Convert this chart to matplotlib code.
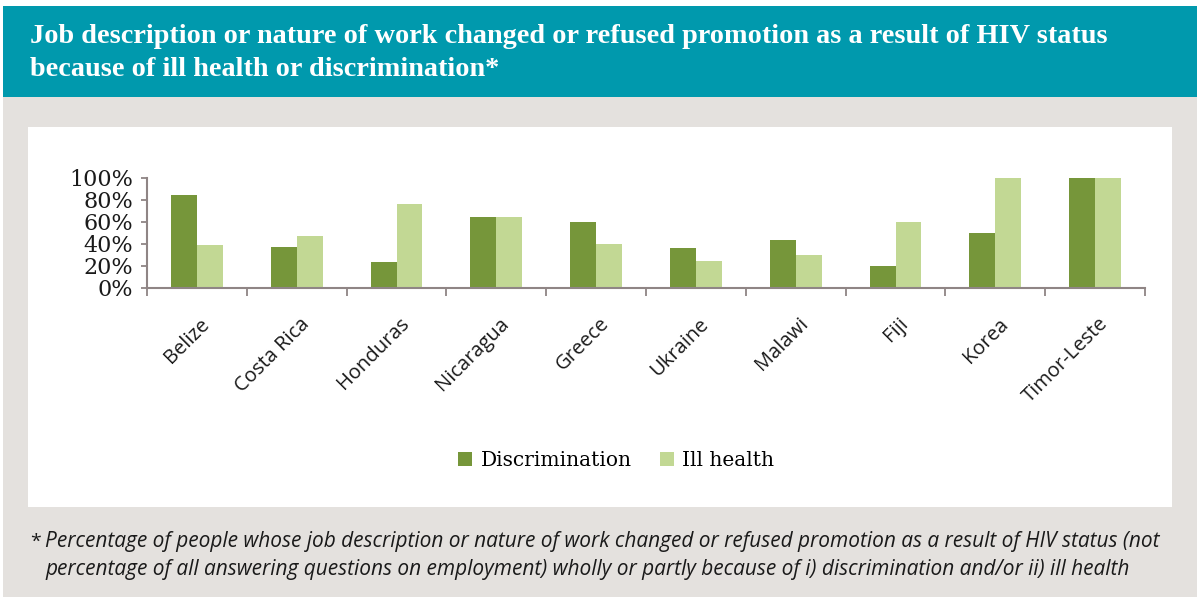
import numpy as np
import matplotlib
matplotlib.use('Agg')
import matplotlib.pyplot as plt
from matplotlib.patches import Rectangle
import matplotlib.transforms as mtransforms

countries = ['Belize', 'Costa Rica', 'Honduras', 'Nicaragua', 'Greece',
             'Ukraine', 'Malawi', 'Fiji', 'Korea', 'Timor-Leste']
discrimination = [85, 37, 24, 65, 60, 36, 44, 20, 50, 100]
ill_health = [39, 47, 76, 65, 40, 25, 30, 60, 100, 100]
y_ticks = [0, 20, 40, 60, 80, 100]

title = ('Job description or nature of work changed or refused promotion as a result of HIV status\n'
         'because of ill health or discrimination*')
note_1 = ('Percentage of people whose job description or nature of work changed or refused promotion '
          'as a result of HIV status (not')
note_2 = ('percentage of all answering questions on employment) wholly or partly because of i) '
          'discrimination and/or ii) ill health')

dark_green = '#76963a'
light_green = '#c2d894'
teal = '#0099ad'
grey_bg = '#e4e1de'
axis_col = '#8f8585'

W, H = 1197, 597
fig = plt.figure(figsize=(W / 100, H / 100), dpi=100)
fig.patch.set_facecolor('white')

def box(x0, y0, x1, y1, color):
    # pixel coords from top-left
    fig.patches.append(Rectangle((x0 / W, 1 - y1 / H), (x1 - x0) / W, (y1 - y0) / H,
                                 transform=fig.transFigure, facecolor=color,
                                 edgecolor='none', zorder=-5))

box(3, 97, W, H, grey_bg)
box(3, 6, W, 97, teal)
box(28, 127, 1172, 507, 'white')

fig.text(30 / W, 1 - 53 / H, title, color='white', fontsize=20.3, fontweight='bold',
         family='Liberation Serif', va='center', ha='left', linespacing=1.4)

# chart
ax = fig.add_axes([147 / W, 1 - 288 / H, (1145 - 147) / W, 110 / H], zorder=2)
ax.set_facecolor('none')
x = np.arange(len(countries))
w = 0.26
ax.bar(x - w / 2, discrimination, w, color=dark_green, label='Discrimination')
ax.bar(x + w / 2, ill_health, w, color=light_green, label='Ill health')
ax.set_xlim(-0.5, len(countries) - 0.5)
ax.set_ylim(0, 100)
ax.set_yticks(y_ticks)
ax.set_yticklabels([f'{t}%' for t in y_ticks], family='DejaVu Serif', fontsize=16, color='#1a1a1a')
ax.set_xticks(np.arange(len(countries) + 1) - 0.5)
ax.set_xticklabels([])
ax.tick_params(axis='x', direction='out', length=6, color=axis_col, width=1.3)
ax.tick_params(axis='y', direction='out', length=4, color=axis_col, width=1.3, pad=6)
for s in ['top', 'right']:
    ax.spines[s].set_visible(False)
for s in ['left', 'bottom']:
    ax.spines[s].set_color(axis_col)
    ax.spines[s].set_linewidth(1.5)

offset = mtransforms.ScaledTranslation(10 / 100, -33 / 100, fig.dpi_scale_trans)
for i, c in enumerate(countries):
    ax.text(i, 0, c, transform=ax.get_xaxis_transform() + offset, rotation=45,
            ha='right', va='center', rotation_mode='anchor', fontsize=14.5,
            family='Open Sans', color='#1a1a1a')

handles, labels = ax.get_legend_handles_labels()
fig.legend(handles, labels, loc='center', bbox_to_anchor=(616 / W, 1 - 461 / H), ncol=2,
           frameon=False, prop={'family': 'DejaVu Serif', 'size': 14.5},
           handlelength=0.7, handleheight=0.7, handletextpad=0.4, columnspacing=1.4)

fig.text(30 / W, 1 - 542 / H, '*', fontsize=14, family='Open Sans', color='#1a1a1a',
         va='center', ha='left')
fig.text(45 / W, 1 - 542 / H, note_1, fontsize=15, family='Open Sans', style='italic',
         color='#1a1a1a', va='center', ha='left')
fig.text(45 / W, 1 - 569 / H, note_2, fontsize=15, family='Open Sans', style='italic',
         color='#1a1a1a', va='center', ha='left')

plt.savefig('out.png', dpi=100)
